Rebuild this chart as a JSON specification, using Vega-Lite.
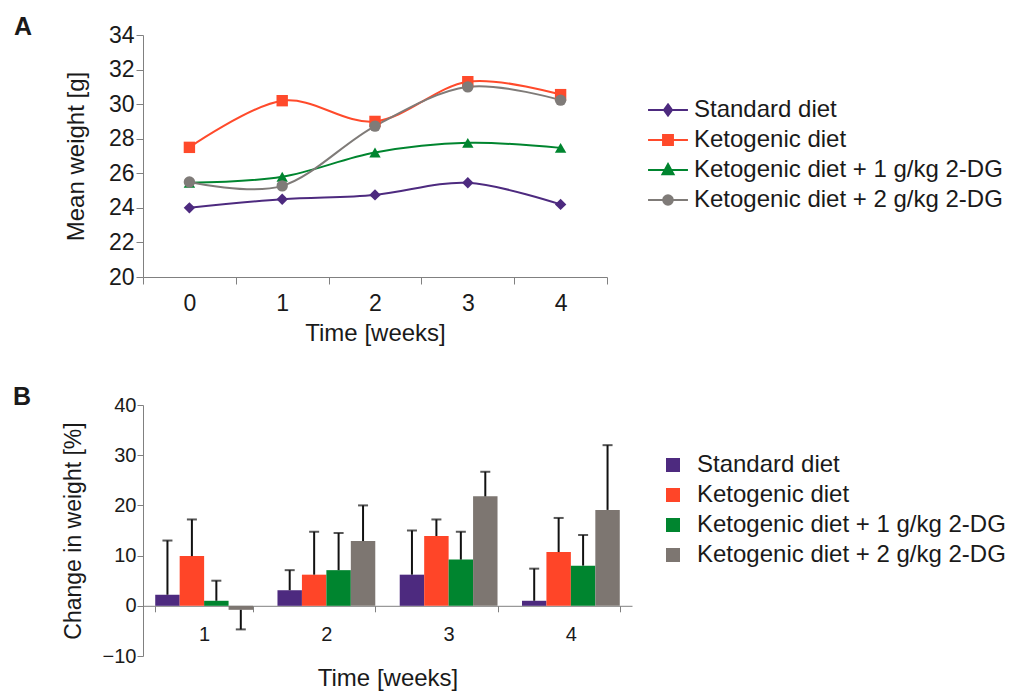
{
  "$schema": "https://vega.github.io/schema/vega-lite/v6.json",
  "padding": {"left": 13, "top": 15, "right": 0, "bottom": 0},
  "background": "white",
  "config": {
    "view": {"stroke": null},
    "font": "Liberation Sans",
    "axis": {"grid": false, "domainColor": "#808080", "tickColor": "#808080", "labelColor": "#1a1a1a", "titleColor": "#1a1a1a", "labelFont": "Liberation Sans", "titleFont": "Liberation Sans", "titleFontWeight": "normal"},
    "legend": {"labelFont": "Liberation Sans", "labelColor": "#1a1a1a", "labelLimit": 0, "padding": 0},
    "title": {"font": "Liberation Sans", "color": "#1a1a1a", "fontSize": 25, "fontWeight": "bold"}
  },
  "datasets": {
    "lines": [
      {"week": 0, "diet": "Standard diet", "weight": 24.0},
      {"week": 1, "diet": "Standard diet", "weight": 24.5},
      {"week": 2, "diet": "Standard diet", "weight": 24.75},
      {"week": 3, "diet": "Standard diet", "weight": 25.45},
      {"week": 4, "diet": "Standard diet", "weight": 24.2},
      {"week": 0, "diet": "Ketogenic diet", "weight": 27.5},
      {"week": 1, "diet": "Ketogenic diet", "weight": 30.2},
      {"week": 2, "diet": "Ketogenic diet", "weight": 29.0},
      {"week": 3, "diet": "Ketogenic diet", "weight": 31.3},
      {"week": 4, "diet": "Ketogenic diet", "weight": 30.55},
      {"week": 0, "diet": "Ketogenic diet + 1 g/kg 2-DG", "weight": 25.45},
      {"week": 1, "diet": "Ketogenic diet + 1 g/kg 2-DG", "weight": 25.8},
      {"week": 2, "diet": "Ketogenic diet + 1 g/kg 2-DG", "weight": 27.2},
      {"week": 3, "diet": "Ketogenic diet + 1 g/kg 2-DG", "weight": 27.76},
      {"week": 4, "diet": "Ketogenic diet + 1 g/kg 2-DG", "weight": 27.47},
      {"week": 0, "diet": "Ketogenic diet + 2 g/kg 2-DG", "weight": 25.5},
      {"week": 1, "diet": "Ketogenic diet + 2 g/kg 2-DG", "weight": 25.27},
      {"week": 2, "diet": "Ketogenic diet + 2 g/kg 2-DG", "weight": 28.73},
      {"week": 3, "diet": "Ketogenic diet + 2 g/kg 2-DG", "weight": 31.0},
      {"week": 4, "diet": "Ketogenic diet + 2 g/kg 2-DG", "weight": 30.23}
    ],
    "bars": [
      {"week": 1, "diet": "Standard diet", "change": 2.2, "errEnd": 13.0},
      {"week": 1, "diet": "Ketogenic diet", "change": 9.9, "errEnd": 17.2},
      {"week": 1, "diet": "Ketogenic diet + 1 g/kg 2-DG", "change": 1.0, "errEnd": 5.0},
      {"week": 1, "diet": "Ketogenic diet + 2 g/kg 2-DG", "change": -0.8, "errEnd": -4.7},
      {"week": 2, "diet": "Standard diet", "change": 3.1, "errEnd": 7.1},
      {"week": 2, "diet": "Ketogenic diet", "change": 6.2, "errEnd": 14.75},
      {"week": 2, "diet": "Ketogenic diet + 1 g/kg 2-DG", "change": 7.1, "errEnd": 14.5},
      {"week": 2, "diet": "Ketogenic diet + 2 g/kg 2-DG", "change": 12.9, "errEnd": 20.0},
      {"week": 3, "diet": "Standard diet", "change": 6.2, "errEnd": 15.0},
      {"week": 3, "diet": "Ketogenic diet", "change": 13.9, "errEnd": 17.2},
      {"week": 3, "diet": "Ketogenic diet + 1 g/kg 2-DG", "change": 9.2, "errEnd": 14.75},
      {"week": 3, "diet": "Ketogenic diet + 2 g/kg 2-DG", "change": 21.8, "errEnd": 26.7},
      {"week": 4, "diet": "Standard diet", "change": 1.0, "errEnd": 7.4},
      {"week": 4, "diet": "Ketogenic diet", "change": 10.7, "errEnd": 17.5},
      {"week": 4, "diet": "Ketogenic diet + 1 g/kg 2-DG", "change": 8.0, "errEnd": 14.1},
      {"week": 4, "diet": "Ketogenic diet + 2 g/kg 2-DG", "change": 19.1, "errEnd": 32.0}
    ]
  },
  "concat": [
    {
      "width": 464,
      "height": 242,
      "title": {"text": "A", "anchor": "start", "frame": "group", "dx": -129, "offset": -36, "baseline": "alphabetic", "fontSize": 25, "fontWeight": "bold"},
      "data": {"name": "lines"},
      "encoding": {
        "x": {"field": "week", "type": "ordinal", "bandPosition": 0.5,
          "scale": {"type": "band", "paddingInner": 0, "paddingOuter": 0},
          "axis": {"title": "Time [weeks]", "labelAngle": 0, "tickBand": "extent", "tickSize": 7, "labelFontSize": 23, "titleFontSize": 24, "labelPadding": 8, "titlePadding": 6}},
        "y": {"field": "weight", "type": "quantitative",
          "scale": {"domain": [20, 34], "nice": false, "zero": false},
          "axis": {"title": "Mean weight [g]", "values": [20, 22, 24, 26, 28, 30, 32, 34], "tickSize": 7, "labelFontSize": 23, "titleFontSize": 24, "labelPadding": 2, "titlePadding": 20}},
        "color": {"field": "diet", "type": "nominal",
          "scale": {"domain": ["Standard diet", "Ketogenic diet", "Ketogenic diet + 1 g/kg 2-DG", "Ketogenic diet + 2 g/kg 2-DG"], "range": ["#4d2a7f", "#ff4a2b", "#00852f", "#7f7b78"]},
          "legend": {"title": null, "orient": "none", "legendX": 509, "legendY": 59, "labelFontSize": 24, "labelOffset": 10, "symbolSize": 900, "rowPadding": 2, "symbolStrokeWidth": 2,
            "encode": {"symbols": {"update": {
              "shape": {"signal": "datum.value === 'Standard diet' ? 'M-1.33,0H1.33M0,-0.37L0.27,0L0,0.37L-0.27,0Z' : datum.value === 'Ketogenic diet' ? 'M-1.33,0H1.33M-0.33,-0.33H0.33V0.33H-0.33Z' : datum.value === 'Ketogenic diet + 1 g/kg 2-DG' ? 'M-1.33,0H1.33M0,-0.4L0.37,0.29H-0.37Z' : 'M-1.33,0H1.33M0.32,0A0.32,0.32,0,1,1,-0.32,0A0.32,0.32,0,1,1,0.32,0Z'"},
              "fill": {"signal": "datum.value === 'Standard diet' ? '#4d2a7f' : datum.value === 'Ketogenic diet' ? '#ff4a2b' : datum.value === 'Ketogenic diet + 1 g/kg 2-DG' ? '#00852f' : '#7f7b78'"},
              "stroke": {"signal": "datum.value === 'Standard diet' ? '#4d2a7f' : datum.value === 'Ketogenic diet' ? '#ff4a2b' : datum.value === 'Ketogenic diet + 1 g/kg 2-DG' ? '#00852f' : '#7f7b78'"},
              "strokeWidth": {"value": 2}
            }}}}
        }
      },
      "layer": [
        {"mark": {"type": "line", "interpolate": "cardinal", "strokeWidth": 2}},
        {"transform": [{"filter": "datum.diet === 'Standard diet'"}], "mark": {"type": "point", "filled": true, "opacity": 1, "size": 130, "shape": "diamond"}},
        {"transform": [{"filter": "datum.diet === 'Ketogenic diet'"}], "mark": {"type": "point", "filled": true, "opacity": 1, "size": 130, "shape": "square"}},
        {"transform": [{"filter": "datum.diet === 'Ketogenic diet + 1 g/kg 2-DG'"}], "mark": {"type": "point", "filled": true, "opacity": 1, "size": 130, "shape": "triangle-up"}},
        {"transform": [{"filter": "datum.diet === 'Ketogenic diet + 2 g/kg 2-DG'"}], "mark": {"type": "point", "filled": true, "opacity": 1, "size": 130, "shape": "circle"}}
      ]
    },
    {
      "width": 489,
      "height": 251,
      "title": {"text": "B", "anchor": "start", "frame": "group", "dx": -130, "offset": -35, "baseline": "alphabetic", "fontSize": 25, "fontWeight": "bold"},
      "data": {"name": "bars"},
      "encoding": {
        "x": {"field": "week", "type": "ordinal",
          "scale": {"paddingInner": 0.2, "paddingOuter": 0.1},
          "axis": {"title": "Time [weeks]", "labelAngle": 0, "tickBand": "extent", "offset": -50.2, "tickSize": 6, "labelFontSize": 20, "titleFontSize": 24, "labelPadding": 13, "titlePadding": 22}},
        "xOffset": {"field": "diet", "type": "nominal",
          "scale": {"domain": ["Standard diet", "Ketogenic diet", "Ketogenic diet + 1 g/kg 2-DG", "Ketogenic diet + 2 g/kg 2-DG"], "paddingInner": 0, "paddingOuter": 0}}
      },
      "layer": [
        {"mark": {"type": "bar"},
          "encoding": {
            "y": {"field": "change", "type": "quantitative",
              "scale": {"domain": [-10, 40], "nice": false},
              "axis": {"title": "Change in weight [%]", "values": [-10, 0, 10, 20, 30, 40], "tickSize": 6, "labelFontSize": 20, "titleFontSize": 23, "labelPadding": 1, "titlePadding": 17}},
            "color": {"field": "diet", "type": "nominal",
              "scale": {"domain": ["Standard diet", "Ketogenic diet", "Ketogenic diet + 1 g/kg 2-DG", "Ketogenic diet + 2 g/kg 2-DG"], "range": ["#4d2a7f", "#ff4528", "#00852f", "#7d7671"]},
              "legend": {"title": null, "orient": "none", "legendX": 518, "legendY": 48, "labelFontSize": 24, "labelOffset": 12, "symbolSize": 196, "symbolType": "square", "symbolStrokeWidth": 0, "rowPadding": 6}}
          }},
        {"mark": {"type": "rule", "color": "#111111", "strokeWidth": 2},
          "encoding": {
            "y": {"field": "change", "type": "quantitative", "axis": {"title": "Change in weight [%]"}},
            "y2": {"field": "errEnd"}
          }},
        {"mark": {"type": "tick", "orient": "horizontal", "color": "#111111", "thickness": 2, "size": 10},
          "encoding": {
            "y": {"field": "errEnd", "type": "quantitative", "axis": {"title": "Change in weight [%]"}}
          }}
      ]
    }
  ],
  "columns": 1,
  "align": "none",
  "spacing": 40,
  "resolve": {"scale": {"color": "independent", "x": "independent", "y": "independent", "xOffset": "independent"}, "legend": {"color": "independent"}}
}
